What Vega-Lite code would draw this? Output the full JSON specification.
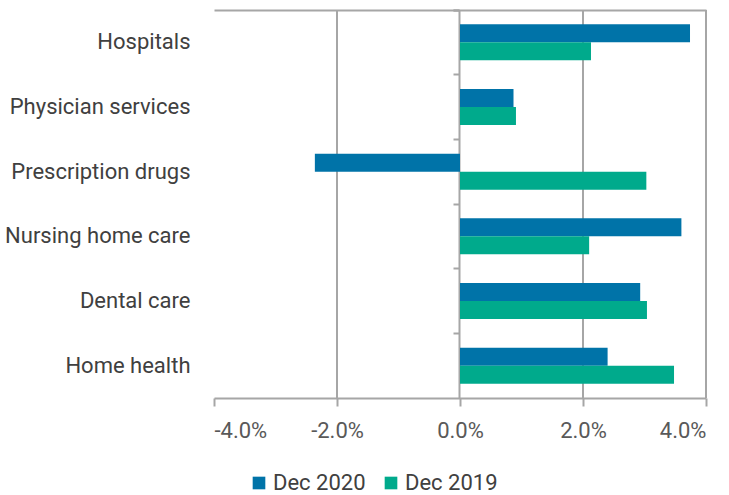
{
  "$schema": "https://vega.github.io/schema/vega-lite/v6.json",
  "width": 492,
  "height": 388,
  "autosize": "none",
  "padding": {"left": 214, "top": 10, "right": 23, "bottom": 97},
  "config": {
    "view": {"stroke": null},
    "font": "Roboto"
  },
  "resolve": {"axis": {"x": "independent"}},
  "layer": [
    {
      "data": {"values": [{"g": -2}, {"g": 2}, {"g": 4}]},
      "mark": {"type": "rule", "color": "#a6a6a6", "strokeWidth": 2},
      "encoding": {
        "x": {
          "field": "g", "type": "quantitative",
          "scale": {"domain": [-4, 4], "nice": false},
          "axis": {"orient": "top", "labels": false, "ticks": false, "grid": false, "title": null, "domainColor": "#a6a6a6", "domainWidth": 2}
        }
      }
    },
    {
      "data": {"values": [
        {"category": "Hospitals", "period": "Dec 2020", "value": 3.74},
        {"category": "Hospitals", "period": "Dec 2019", "value": 2.13},
        {"category": "Physician services", "period": "Dec 2020", "value": 0.87},
        {"category": "Physician services", "period": "Dec 2019", "value": 0.91},
        {"category": "Prescription drugs", "period": "Dec 2020", "value": -2.36},
        {"category": "Prescription drugs", "period": "Dec 2019", "value": 3.03},
        {"category": "Nursing home care", "period": "Dec 2020", "value": 3.6},
        {"category": "Nursing home care", "period": "Dec 2019", "value": 2.1},
        {"category": "Dental care", "period": "Dec 2020", "value": 2.93},
        {"category": "Dental care", "period": "Dec 2019", "value": 3.04},
        {"category": "Home health", "period": "Dec 2020", "value": 2.4},
        {"category": "Home health", "period": "Dec 2019", "value": 3.48}
      ]},
      "mark": {"type": "bar"},
      "encoding": {
        "y": {
          "field": "category", "type": "nominal",
          "sort": ["Hospitals", "Physician services", "Prescription drugs", "Nursing home care", "Dental care", "Home health"],
          "scale": {"paddingInner": 0, "paddingOuter": 0},
          "axis": {
            "title": null, "orient": "left", "offset": -245,
            "domainColor": "#a6a6a6", "domainWidth": 2,
            "ticks": true, "tickColor": "#a6a6a6", "tickWidth": 2, "tickSize": 6,
            "bandPosition": 0, "tickExtra": true,
            "labelPadding": 263, "labelFontSize": 22, "labelColor": "#404040", "labelLimit": 300,
            "grid": false
          }
        },
        "yOffset": {
          "field": "period", "type": "nominal",
          "sort": ["Dec 2020", "Dec 2019"],
          "scale": {"paddingInner": 0, "paddingOuter": 0.8}
        },
        "x": {
          "field": "value", "type": "quantitative",
          "scale": {"domain": [-4, 4], "nice": false},
          "axis": {
            "title": null, "values": [-4, -2, 0, 2, 4], "grid": false,
            "labelExpr": "replace(format(datum.value, '.1f'), '\u2212', '-') + '%'",
            "domainColor": "#a6a6a6", "domainWidth": 2,
            "tickColor": "#a6a6a6", "tickWidth": 2, "tickSize": 8,
            "labelFontSize": 22, "labelColor": "#595959", "labelPadding": 14
          }
        },
        "color": {
          "field": "period", "type": "nominal",
          "scale": {"domain": ["Dec 2020", "Dec 2019"], "range": ["#0073a8", "#00aa8c"]},
          "legend": {
            "title": null, "orient": "none", "direction": "horizontal",
            "legendX": 34, "legendY": 462, "padding": 0,
            "symbolType": "square", "symbolSize": 160, "symbolStrokeWidth": 0,
            "labelFontSize": 22, "labelColor": "#404040", "labelOffset": 3,
            "columnPadding": 14
          }
        }
      }
    }
  ]
}
